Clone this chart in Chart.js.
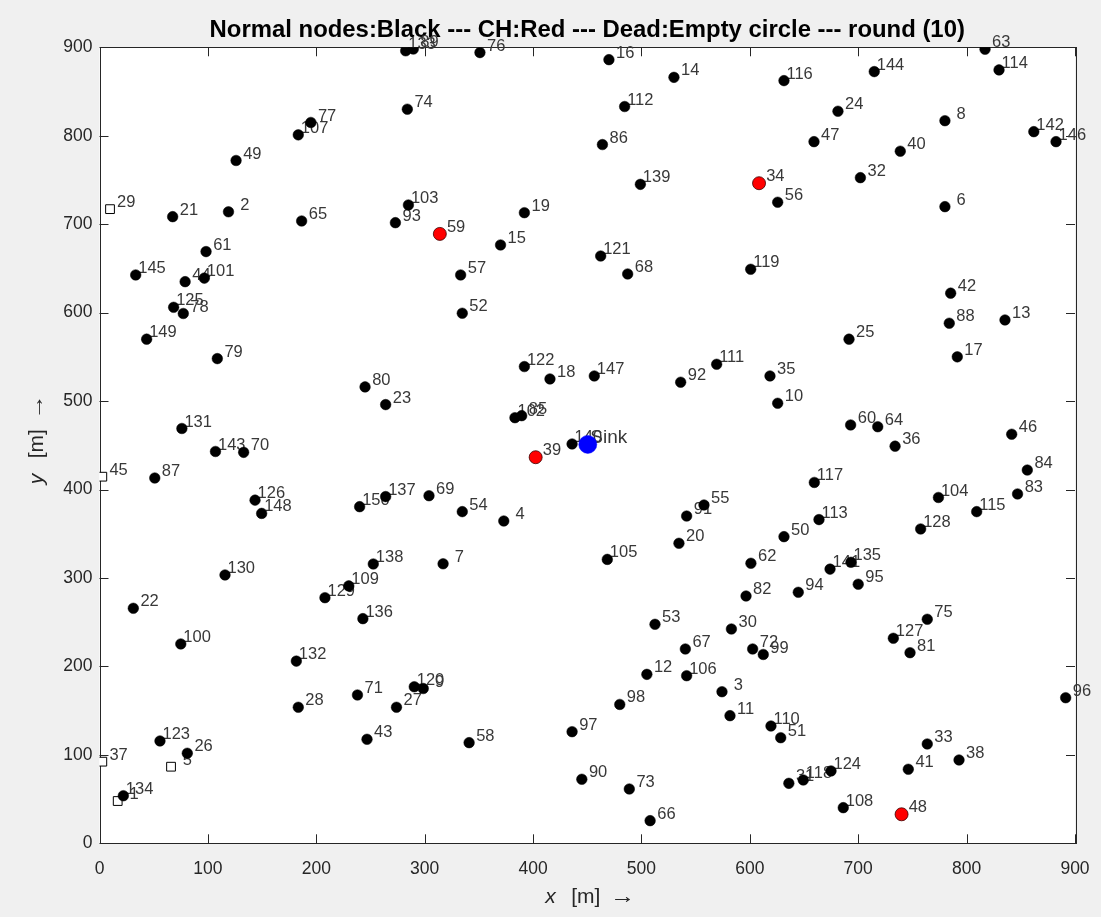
<!DOCTYPE html>
<html><head><meta charset="utf-8">
<script src="https://cdn.jsdelivr.net/npm/chart.js@4/dist/chart.umd.min.js"></script>
<style>html,body{margin:0;padding:0;background:#f0f0f0;}canvas{display:block;}</style>
</head><body>
<canvas id="c" width="1101" height="917"></canvas>
<script>
// ---------- data ----------
const titleText = 'Normal nodes:Black --- CH:Red --- Dead:Empty circle --- round (10)';
const xTicks = [0,100,200,300,400,500,600,700,800,900];
const yTicks = [0,100,200,300,400,500,600,700,800,900];

const normalIds = [133,89,76,16,14,112,86,139,19,15,74,77,107,49,21,2,65,103,93,61,
  145,44,101,125,78,149,79,80,23,131,143,70,87,126,148,150,137,69,54,4,
  7,138,109,129,136,130,22,100,132,28,71,27,120,9,43,123,26,134,58,97,
  90,73,66,98,12,106,3,11,67,53,30,105,20,91,55,62,82,140,122,18,
  147,102,85,92,111,121,68,57,52,119,35,10,25,42,88,13,17,60,64,36,
  46,84,83,104,115,128,117,113,50,135,141,94,95,75,127,81,72,99,110,51,
  31,118,124,108,41,33,38,96,116,144,63,114,24,8,47,40,142,146,56,32,6];
const normalX = [282.5,289.5,351,470,530,484.5,464,499,392,370,284,195,183.4,126,67.5,119,186.5,285,273,98.3,
  33.4,79,96.7,68.4,77.3,43.5,108.7,245,264,76,107,133,51,143.5,149.6,240,264,304,334.7,373,
  317,252.6,230,208,243,115.8,31.2,75,181.6,183.4,238,274,290.4,298.7,246.8,55.8,81,22,341,436,
  445,488.8,508,480,505,541.7,574.3,581.7,540.5,512.5,583,468.5,534.6,541.7,557.7,601,596.5,436,392,415.6,
  456.5,383.3,389.5,536.2,569.4,462.4,487.3,333.2,334.7,600.8,618.6,625.7,691.5,785.3,784,835.4,791.4,693,718,734,
  841.6,856,847,774,809.3,757.6,659.5,663.8,631.5,693.3,674,644.7,700,763.7,732.4,747.8,602.6,612.4,619.5,628.5,
  636,649.3,674.9,686.2,746.2,763.7,793,891.4,631.5,714.8,817,829.9,681.3,780,659.2,738.8,862,882.5,625.7,702,780];
const normalY = [896,898,894,886,866,833,790,745,713,676.5,830,815,801,772,708.5,714,703.6,721.7,701.7,669,
  642.6,635,639,606,599,570,548,516,496,469,443,442,413,388,373,380.6,392,393,375,364.4,
  316,315.8,291,277.7,254,303.4,265.7,225.4,206,153.8,167.7,153.8,177,175,117.6,115.7,101.8,53.8,113.8,126.2,
  72.4,61.4,25.6,157,191,189.5,171.4,144.3,219.7,247.6,242.3,321,339.2,370,382.5,316.6,279.6,451.5,539,525,
  528.4,481.2,483.5,521.3,541.6,664,643.7,642.6,599.3,649,528.4,497.5,570,622,588,591.7,550,473,471,449,
  462.5,422,395,391,375,355.4,408,366,346.7,317.7,310,283.8,292.9,253.3,231.8,215.5,219.7,213.5,132.6,119.4,
  67.8,71.6,81.8,40.3,83.7,112.3,94.2,164.6,862.3,872.5,897.8,874.4,827.7,817,793.3,782.5,804.6,793.3,724.8,752.6,719.8];

const chIds = [59,34,39,48];
const chX = [314,608.5,402.4,740];
const chY = [689,746.3,436.5,32.8];

const deadIds = [29,45,37,5,1];
const deadX = [9.7,2.6,2.6,66,16.8];
const deadY = [717,414.5,92.3,86.6,47.8];

const sinkLabel = ['Sink'];
const sinkX = [450.5];
const sinkY = [451];

// ---------- helpers ----------
const zip = (xs, ys) => xs.map((x, i) => ({x: x, y: ys[i]}));
const FONT = '"Liberation Sans", Arial, Helvetica, sans-serif';
const LABEL_PX = 16.5;
const AXT_PX = 21;

// axis title: italic letter, "[m]", long arrow; laid out around centre c
function drawAxisTitle(ctx, letter, c, y) {
  ctx.font = 'italic ' + AXT_PX + 'px ' + FONT;
  ctx.fillText(letter, c - 42, y);
  ctx.font = AXT_PX + 'px ' + FONT;
  ctx.fillText('[m]', c - 16, y);
  const wa = ctx.measureText('\u2192').width;
  ctx.save();
  ctx.translate(c + 23, y);
  ctx.scale(25 / wa, 1);
  ctx.fillText('\u2192', 0, 0);
  ctx.restore();
}

const framePlugin = {
  id: 'frame',
  beforeDraw(chart) {
    const {ctx, chartArea: a} = chart;
    ctx.save();
    ctx.fillStyle = '#ffffff';
    ctx.fillRect(a.left, a.top, a.right - a.left, a.bottom - a.top);
    ctx.restore();
  },
  beforeDatasetsDraw(chart) {
    const {ctx, chartArea: a, scales} = chart;
    ctx.save();
    // axes box
    ctx.strokeStyle = '#262626';
    ctx.lineWidth = 1;
    ctx.strokeRect(Math.round(a.left) + 0.5, Math.round(a.top) + 0.5,
                   Math.round(a.right - a.left), Math.round(a.bottom - a.top));
    // inward ticks on all sides
    const tl = 9;
    ctx.beginPath();
    xTicks.forEach(v => {
      const px = Math.round(scales.x.getPixelForValue(v)) + 0.5;
      ctx.moveTo(px, a.bottom); ctx.lineTo(px, a.bottom - tl);
      ctx.moveTo(px, a.top); ctx.lineTo(px, a.top + tl);
    });
    yTicks.forEach(v => {
      const py = Math.round(scales.y.getPixelForValue(v)) + 0.5;
      ctx.moveTo(a.left, py); ctx.lineTo(a.left + tl, py);
      ctx.moveTo(a.right, py); ctx.lineTo(a.right - tl, py);
    });
    ctx.stroke();

    // node labels (drawn under the markers)
    ctx.fillStyle = '#383838';
    ctx.textBaseline = 'middle';
    ctx.textAlign = 'left';
    chart.data.datasets.forEach((ds, di) => {
      const meta = chart.getDatasetMeta(di);
      ctx.font = (ds.isSink ? '19px ' : LABEL_PX + 'px ') + FONT;
      const sp = ctx.measureText(' ').width;
      ds.ids.forEach((id, j) => {
        const el = meta.data[j];
        const s = String(id);
        const pad = ds.isSink ? 0 : Math.max(0, 3 - s.length) * sp;
        ctx.fillText(s, el.x + 2.5 + pad, el.y - 6.5);
      });
    });

    // axis titles
    ctx.fillStyle = '#262626';
    ctx.textBaseline = 'middle';
    drawAxisTitle(ctx, 'x', (a.left + a.right) / 2, 897);
    ctx.save();
    ctx.translate(37, (a.top + a.bottom) / 2);
    ctx.rotate(-Math.PI / 2);
    drawAxisTitle(ctx, 'y', 3, 0);
    ctx.restore();

    ctx.restore();
  }
};

new Chart(document.getElementById('c'), {
  type: 'scatter',
  data: {
    datasets: [
      { label: 'Normal', ids: normalIds, data: zip(normalX, normalY),
        pointStyle: 'circle', pointRadius: 5.3, pointBackgroundColor: '#000000',
        pointBorderColor: '#000000', pointBorderWidth: 0.5 },
      { label: 'Dead', ids: deadIds, data: zip(deadX, deadY),
        pointStyle: 'rect', pointRadius: 6.2, pointBackgroundColor: '#ffffff',
        pointBorderColor: '#000000', pointBorderWidth: 1 },
      { label: 'CH', ids: chIds, data: zip(chX, chY),
        pointStyle: 'circle', pointRadius: 6.5, pointBackgroundColor: '#ff0000',
        pointBorderColor: '#3a0000', pointBorderWidth: 0.8 },
      { label: 'Sink', ids: sinkLabel, isSink: true, data: zip(sinkX, sinkY),
        pointStyle: 'circle', pointRadius: 9, pointBackgroundColor: '#0000ff',
        pointBorderColor: '#0000ff', pointBorderWidth: 0.5 }
    ]
  },
  options: {
    responsive: false,
    animation: false,
    devicePixelRatio: 1,
    layout: { padding: { left: 0, right: 26, top: 0, bottom: 0 } },
    plugins: {
      legend: { display: false },
      tooltip: { enabled: false },
      title: {
        display: true, text: titleText, fullSize: false,
        color: '#000000',
        font: { family: FONT, size: 23.9, weight: 'bold' },
        padding: { top: 15.6, bottom: 3.0 }
      }
    },
    scales: {
      x: {
        type: 'linear', position: 'bottom', min: 0, max: 900,
        afterFit: s => { s.height = 73.7; s.paddingLeft = 0; s.paddingRight = 0; },
        afterBuildTicks: s => { s.ticks = xTicks.map(v => ({value: v})); },
        grid: { display: false, drawTicks: false },
        border: { display: false },
        ticks: { padding: 15, color: '#262626', font: { family: FONT, size: 17.5 }, maxRotation: 0 }
      },
      y: {
        type: 'linear', position: 'left', min: 0, max: 900,
        afterFit: s => { s.width = 99.5; s.paddingTop = 0; s.paddingBottom = 0; },
        afterBuildTicks: s => { s.ticks = yTicks.map(v => ({value: v})); },
        grid: { display: false, drawTicks: false },
        border: { display: false },
        ticks: { padding: 7, color: '#262626', font: { family: FONT, size: 17.5 } }
      }
    }
  },
  plugins: [framePlugin]
});
</script>
</body></html>
